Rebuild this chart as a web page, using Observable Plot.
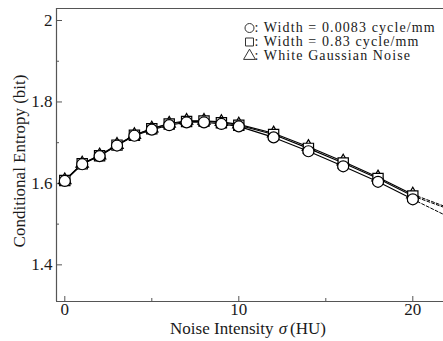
<!DOCTYPE html>
<html>
<head>
<meta charset="utf-8">
<script src="https://cdn.jsdelivr.net/npm/d3@7"></script>
<script src="https://cdn.jsdelivr.net/npm/@observablehq/plot@0.6"></script>
<style>
  html, body { margin: 0; padding: 0; background: #fff; }
  svg { display: block; }
  svg text { font-family: 'Liberation Serif', 'Times New Roman', serif; }
  .legend-text text { letter-spacing: 1.1px; }
</style>
</head>
<body>
<div id="chart"></div>
<script>
// Noise intensity σ (HU)
const sigma = [0, 1, 2, 3, 4, 5, 6, 7, 8, 9, 10, 12, 14, 16, 18, 20];
// Conditional entropy (bit)
const widthLow  = [1.606, 1.647, 1.667, 1.693, 1.717, 1.732, 1.743, 1.750, 1.750, 1.746, 1.740, 1.713, 1.679, 1.642, 1.604, 1.561]; // ○ 0.0083 cycle/mm
const widthHigh = [1.607, 1.648, 1.668, 1.694, 1.718, 1.734, 1.746, 1.752, 1.753, 1.749, 1.743, 1.720, 1.686, 1.650, 1.612, 1.569]; // □ 0.83 cycle/mm
const whiteNoise = [1.608, 1.649, 1.669, 1.695, 1.719, 1.735, 1.747, 1.754, 1.754, 1.751, 1.745, 1.723, 1.690, 1.654, 1.615, 1.573]; // △ white Gaussian noise
// dashed continuation beyond the last drawn point
const extSigma = [20, 22];
const extLow = [1.561, 1.519];
const extHigh = [1.569, 1.538];
const extWhite = [1.573, 1.541];

const legendLabels = [": Width = 0.0083 cycle/mm", ": Width = 0.83 cycle/mm", ": White Gaussian Noise"];
const legendSymbols = ["circle", "square", "triangle"];
const xTicks = [0, 10, 20];
const xMinor = [5, 15];
const yTicks = [1.4, 1.6, 1.8, 2.0];
const yMinor = [1.5, 1.7, 1.9];

const series = [
  {name: "white", vals: whiteNoise, ext: extWhite, symbol: "triangle", r: 4.6},
  {name: "high", vals: widthHigh, ext: extHigh, symbol: "square", r: 5.8},
  {name: "low", vals: widthLow, ext: extLow, symbol: "circle", r: 5.5}
];
const pts = s => sigma.map((x, i) => ({x, y: s.vals[i]}));
const extPts = s => extSigma.map((x, i) => ({x, y: s.ext[i]}));

const W = 443, H = 341;
const mL = 56, mR = 0, mT = 8, mB = 40;
const plotW = W - mL - mR, plotH = H - mT - mB;
const xDom = [-0.477, 21.764], yDom = [1.31, 2.0295];

const font = "'Liberation Serif', 'Times New Roman', serif";
const axisColor = "#555";
const textColor = "#1a1a1a";

const marks = [];
// frame lines (left, top, bottom)
marks.push(Plot.ruleX([xDom[0]], {stroke: axisColor, strokeWidth: 1.2}));
marks.push(Plot.ruleY([yDom[0], yDom[1]], {stroke: axisColor, strokeWidth: 1.2}));
// inward ticks
marks.push(Plot.tickY(yTicks, {y: d => d, stroke: axisColor, insetRight: plotW - 6}));
marks.push(Plot.tickY(yMinor, {y: d => d, stroke: axisColor, insetRight: plotW - 3}));
marks.push(Plot.tickX(xTicks, {x: d => d, stroke: axisColor, insetTop: plotH - 5}));
marks.push(Plot.tickX(xMinor, {x: d => d, stroke: axisColor, insetTop: plotH - 3}));
// tick labels
marks.push(Plot.axisY(yTicks, {label: null, tickSize: 0, tickPadding: 4, fontSize: 17, fontFamily: font, tickFormat: d => d === 2 ? "2" : d3.format(".1f")(d), fill: textColor}));
marks.push(Plot.axisX(xTicks, {label: null, tickSize: 0, tickPadding: 1, fontSize: 17, fontFamily: font, fill: textColor}));

// lines
for (const s of series) {
  marks.push(Plot.line(extPts(s), {x: "x", y: "y", stroke: "#000", strokeWidth: 1, strokeDasharray: "3,2", clip: true}));
  marks.push(Plot.line(pts(s), {x: "x", y: "y", stroke: "#000", strokeWidth: 1.1}));
}
// markers
for (const s of series) {
  marks.push(Plot.dot(pts(s), {x: "x", y: "y", symbol: s.symbol, r: s.r, fill: "#fff", stroke: "#000", strokeWidth: 1.2}));
}

// legend
legendLabels.forEach((t, i) => {
  marks.push(Plot.dot([0], {frameAnchor: "top-left", dx: 193, dy: 19.5 + i * 14, symbol: legendSymbols[i], r: i === 2 ? 4.4 : 4.5, fill: "none", stroke: "#333", strokeWidth: 1}));
  marks.push(Plot.text([t], {frameAnchor: "top-left", dx: 198, dy: 19 + i * 14, text: d => d, textAnchor: "start", lineAnchor: "middle", fontSize: 14, fontFamily: font, fill: textColor, className: "legend-text"}));
});

// axis titles
marks.push(Plot.text(["Conditional Entropy (bit)"], {frameAnchor: "left", dx: -37, dy: 6, rotate: -90, text: d => d, textAnchor: "middle", fontSize: 17, fontFamily: font, fill: textColor, lineAnchor: "middle"}));
marks.push(Plot.text(["Noise Intensity"], {frameAnchor: "bottom", dx: 23.5, dy: 32, text: d => d, textAnchor: "end", fontSize: 17, fontFamily: font, fill: textColor}));
marks.push(Plot.text(["σ"], {frameAnchor: "bottom", dx: 33, dy: 32, text: d => d, textAnchor: "middle", fontSize: 17, fontFamily: font, fontStyle: "italic", fill: textColor}));
marks.push(Plot.text(["(HU)"], {frameAnchor: "bottom", dx: 40, dy: 32, text: d => d, textAnchor: "start", fontSize: 17, fontFamily: font, fill: textColor}));

const chart = Plot.plot({
  width: W, height: H,
  marginLeft: mL, marginRight: mR, marginTop: mT, marginBottom: mB,
  style: `font-family: ${font}; background: #fff; overflow: visible;`,
  x: {domain: xDom},
  y: {domain: yDom},
  marks
});
document.getElementById("chart").appendChild(chart);
</script>
</body>
</html>
